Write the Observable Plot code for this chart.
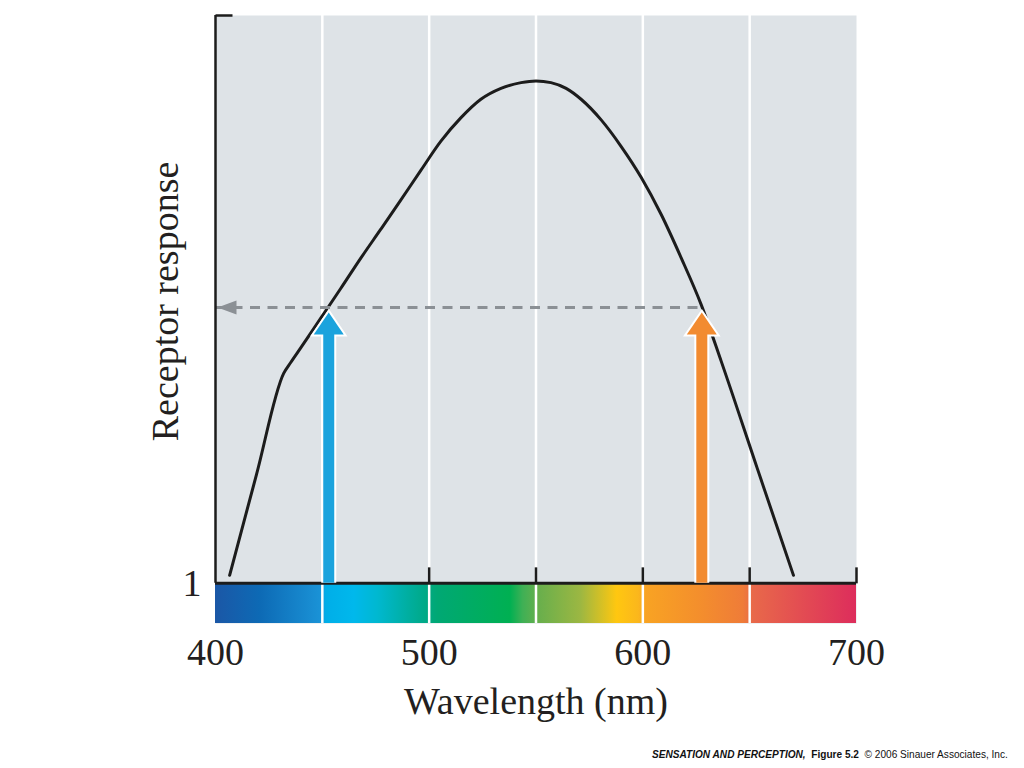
<!DOCTYPE html>
<html>
<head>
<meta charset="utf-8">
<script src="https://cdn.jsdelivr.net/npm/d3@7"></script>
<script src="https://cdn.jsdelivr.net/npm/@observablehq/plot@0.6"></script>
<style>
  body { margin: 0; background: #ffffff; }
  #chart { position: absolute; left: 0; top: 0; }
  #footer {
    position: absolute; left: 652px; top: 749px;
    font-family: "Liberation Sans", Arial, sans-serif; font-size: 10.1px;
    color: #111; white-space: nowrap;
  }
</style>
</head>
<body>
<div id="chart"></div>
<div id="footer"><b><i>SENSATION AND PERCEPTION,</i></b>&nbsp; <b>Figure 5.2</b>&nbsp; © 2006 Sinauer Associates, Inc.</div>
<script>
// ---- data ----
const wavelength = [406.6, 419.2, 431.9, 435.2, 439.8, 449.2, 458.6, 468.0, 477.3, 486.7, 496.1, 505.5, 514.8, 524.2, 533.6, 543.0, 550.0, 557.0, 564.1, 571.1, 580.5, 589.8, 599.2, 608.6, 618.0, 627.3, 636.7, 653.6, 670.5];
const response   = [2.4, 20.0, 37.6, 39.5, 42.0, 47.2, 52.4, 57.7, 62.7, 67.8, 73.0, 78.1, 82.15, 85.4, 87.3, 88.3, 88.6, 88.3, 87.3, 85.4, 81.8, 77.2, 71.8, 65.3, 57.7, 49.6, 39.7, 21.0, 2.4];

const xTicks = [400, 500, 600, 700];
const xTickLabels = ["400", "500", "600", "700"];
const gridWavelengths = [450, 500, 550, 600, 650];
const baselineTicks = [500, 550, 600, 650, 700];
const yTicks = [1];
const yTickLabels = ["1"];
const yDomain = [-6, 100];          // colour bar sits below response 1
const responseBaseline = 1;

const matchedResponse = 49.1;
const matchedWavelengths = [452.5, 628.3];
const arrowWavelengths = [453, 627.6];
const arrowColors = ["#1ba3dd", "#f28b30"];

const spectrumStops  = [400, 421, 449, 452, 465, 476, 491, 499, 504, 538, 544, 552, 571, 588, 598, 601.5, 626, 647, 652, 700];
const spectrumColors = ["#1b57a6", "#0d6ab5", "#1a92d6", "#00aee8", "#00b8ec", "#00b8d0", "#00ae9e", "#00a985", "#00a874", "#00b052", "#3fb055", "#6aaf4c", "#9cb742", "#ffc710", "#fbb71c", "#f8a323", "#f48f2c", "#ef7c38", "#e8684a", "#dd2d5c"];

// ---- custom symbols (pixel shapes) ----
const upHead   = {draw(c) { c.moveTo(0, 0); c.lineTo(15, 22); c.lineTo(-15, 22); c.closePath(); }};
const leftHead = {draw(c) { c.moveTo(0, 0); c.lineTo(19, -7); c.lineTo(19, 7); c.closePath(); }};
const upTick   = {draw(c) { c.moveTo(0, 0); c.lineTo(0, -16); }};
const rightTick= {draw(c) { c.moveTo(0, 0); c.lineTo(17, 0); }};

const serif = "'Liberation Serif', 'Times New Roman', serif";
const ink = "#1c1c1c";
const idx = d3.range(wavelength.length);
const arrowIdx = d3.range(arrowWavelengths.length);

const chart = Plot.plot({
  width: 1024,
  height: 740,
  marginLeft: 215,
  marginRight: 168,
  marginTop: 15,
  marginBottom: 117,
  x: {domain: [xTicks[0], xTicks[xTicks.length - 1]], axis: null},
  y: {domain: yDomain, axis: null},
  color: {type: "identity"},
  marks: [
    Plot.frame({fill: "#dee3e7", stroke: "none"}),
    // spectrum bar
    Plot.rect([0], {x1: () => xTicks[0], x2: () => xTicks[xTicks.length - 1], y1: () => yDomain[0], y2: () => responseBaseline, fill: "url(#spectrum)"}),
    // white grid lines
    Plot.ruleX(gridWavelengths, {stroke: "white", strokeWidth: 2.5}),
    // response curve
    Plot.line(idx, {x: i => wavelength[i], y: i => response[i], curve: "monotone-x", stroke: ink, strokeWidth: 3}),
    // dashed read-out line
    Plot.ruleY([matchedResponse], {x1: () => xTicks[0], x2: () => matchedWavelengths[1], stroke: "#8b9095", strokeWidth: 3, strokeDasharray: "10,7.5"}),
    Plot.dot([matchedResponse], {x: () => xTicks[0], y: d => d, dx: 2, symbol: leftHead, fill: "#8b9095", stroke: "none"}),
    // axes
    Plot.ruleX([xTicks[0]], {y1: () => responseBaseline, y2: () => yDomain[1], stroke: ink, strokeWidth: 2.5}),
    Plot.dot([yDomain[1]], {x: () => xTicks[0], y: d => d, symbol: rightTick, stroke: ink, strokeWidth: 2.5, fill: "none"}),
    Plot.ruleY([responseBaseline], {x1: () => xTicks[0], x2: () => xTicks[xTicks.length - 1], stroke: ink, strokeWidth: 3}),
    Plot.dot(baselineTicks, {x: d => d, y: () => responseBaseline, symbol: upTick, stroke: ink, strokeWidth: 2.5, fill: "none"}),
    // arrows
    Plot.ruleX(arrowIdx, {x: i => arrowWavelengths[i], y1: () => responseBaseline, y2: () => matchedResponse - 3, stroke: "white", strokeWidth: 15}),
    Plot.dot(arrowIdx, {x: i => arrowWavelengths[i], y: () => matchedResponse, dy: 5, symbol: upHead, fill: "white", stroke: "white", strokeWidth: 4}),
    Plot.ruleX(arrowIdx, {x: i => arrowWavelengths[i], y1: () => responseBaseline, y2: () => matchedResponse - 3, stroke: i => arrowColors[i], strokeWidth: 11}),
    Plot.dot(arrowIdx, {x: i => arrowWavelengths[i], y: () => matchedResponse, dy: 5, symbol: upHead, fill: i => arrowColors[i], stroke: "none"}),
    // text
    Plot.text(yTicks, {frameAnchor: "left", y: d => d, text: (d, i) => yTickLabels[i], textAnchor: "end", dx: -14, fontSize: 38, fontFamily: serif, fill: "#231f20"}),
    Plot.text(xTicks, {x: d => d, frameAnchor: "bottom", text: (d, i) => xTickLabels[i], dy: 41, fontSize: 38, fontFamily: serif, fill: "#231f20"}),
    Plot.text(["Wavelength (nm)"], {frameAnchor: "bottom", text: d => d, dy: 90, fontSize: 38, fontFamily: serif, fill: "#231f20"}),
    Plot.text(["Receptor response"], {frameAnchor: "left", text: d => d, textAnchor: "middle", rotate: -90, dx: -50, dy: -18, fontSize: 38, fontFamily: serif, fill: "#231f20"})
  ]
});

// spectrum gradient
const svg = d3.select(chart);
const grad = svg.insert("defs", ":first-child")
  .append("linearGradient").attr("id", "spectrum")
  .attr("x1", 0).attr("x2", 1).attr("y1", 0).attr("y2", 0);
spectrumStops.forEach((s, i) => grad.append("stop")
  .attr("offset", (s - xTicks[0]) / (xTicks[xTicks.length - 1] - xTicks[0]))
  .attr("stop-color", spectrumColors[i]));

document.getElementById("chart").appendChild(chart);
</script>
</body>
</html>
